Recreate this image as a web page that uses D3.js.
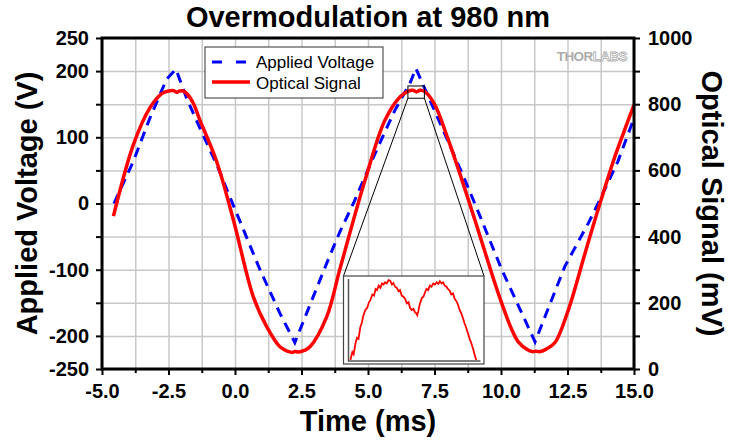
<!DOCTYPE html>
<meta charset="utf-8">
<script src="https://d3js.org/d3.v7.min.js"></script>
<style>
body { margin: 0; background: #fff; }
text { font-family: Arial, "Liberation Sans", sans-serif; }
.axis path { display: none; }
.axis line { stroke: #000; stroke-width: 2px; }
.axis text { font-size: 20px; font-weight: bold; fill: #000; }
.grid path { display: none; }
.grid line { stroke: #c8c8c8; stroke-width: 1.5px; }
.grid text { display: none; }
</style>
<body></body>
<script>

// applied voltage (V) vs time (ms)
var voltT = [-4.55, -3.82, -3.2, -2.57, -2.22, -1.82, -1.32, -0.69, -0.07, 0.94, 1.69, 2.25, 2.69, 3.45, 3.95,
             4.45, 5.26, 6.0, 6.58, 6.8, 7.77, 8.65, 9.2, 10.03, 11.28, 12.4, 13.28, 13.65, 14.4, 15.0];
var voltV = [0, 64, 129, 188, 203, 159, 114, 59, -2, -100, -166, -210, -166, -90, -42,
             0, 75, 140, 182, 204, 116, 35, -18, -100, -209, -95, -30, 0, 64, 129];

// optical signal (mV) vs time (ms)
var sigT = [-4.57, -3.82, -3.2, -2.75, -2.5, -2.3, -2.2, -2.08, -1.9, -1.6, -1.32, -0.69, -0.06, 0.69, 1.19, 1.69,
            2.0, 2.15, 2.25, 2.4, 2.6, 2.82, 3.45, 3.95, 4.89, 5.64, 6.2, 6.5, 6.7, 6.82, 6.95, 7.14, 7.5, 8.02,
            9.02, 9.65, 10.03, 10.4, 10.65, 11.0, 11.2, 11.3, 11.45, 11.7, 12.03, 12.53, 13.16, 13.53, 14.22, 14.6, 15.0];
var sigMV = [462, 678, 789, 832, 840, 841, 836, 840, 838, 808, 752, 627, 450, 218, 128, 67,
             53, 50, 53, 51, 56, 67, 158, 304, 571, 752, 822, 839, 842, 837, 842, 838, 800, 692,
             450, 289, 198, 120, 82, 58, 52, 54, 52, 60, 80, 178, 350, 450, 627, 712, 798];

// zoomed peak shown in the inset
var insetT = [6.509, 6.518, 6.524, 6.533, 6.540, 6.547, 6.556, 6.562, 6.570, 6.579, 6.588, 6.596, 6.603, 6.612,
              6.620, 6.627, 6.634, 6.642, 6.650, 6.657, 6.665, 6.672, 6.680, 6.688, 6.696, 6.704, 6.711, 6.719,
              6.727, 6.735, 6.742, 6.750, 6.758, 6.766, 6.774, 6.782, 6.789, 6.797, 6.805, 6.812, 6.818, 6.823,
              6.828, 6.832, 6.836, 6.845, 6.852, 6.859, 6.866, 6.874, 6.882, 6.890, 6.898, 6.906, 6.914, 6.922,
              6.929, 6.937, 6.944, 6.952, 6.960, 6.967, 6.975, 6.983, 6.991, 6.999, 7.007, 7.014, 7.022, 7.030,
              7.037, 7.045, 7.053, 7.061, 7.069, 7.077, 7.085, 7.092, 7.100];
var insetMV = [818.5, 822, 821, 826, 828.5, 828, 833.5, 835, 838.5, 841, 842, 844.5, 845.5, 848,
               847.5, 850.5, 850, 852, 851, 853, 852.5, 853.5, 853, 854.5, 854.2, 852.5, 853.2, 851.5,
               851, 849.5, 850, 847.5, 847, 846, 844, 844.5, 842, 841, 841.5, 840, 839.5, 838.6,
               840.5, 842.5, 844, 846.5, 847, 848.8, 850.5, 850, 852, 851.5, 853, 852.5, 853.5, 852.8,
               854, 853, 853.5, 852, 851.5, 850.5, 849.8, 848, 848.5, 846, 845, 843.5, 841, 839.5,
               837.5, 835, 833, 830.5, 828, 826, 823.5, 821, 818.5];
var zoomT = [6.5, 7.12];
var zoomMV = [818, 855];

var xTicks = [-5, -2.5, 0, 2.5, 5, 7.5, 10, 12.5, 15];
var yLeftLabels = [-250, -200, -100, 0, 100, 200, 250];
var yRightLabels = [0, 200, 400, 600, 800, 1000];
var seriesNames = ["Applied Voltage", "Optical Signal"];

var volt = voltT.map(function(t, i) { return {t: t, v: voltV[i]}; });
var sig = sigT.map(function(t, i) { return {t: t, v: sigMV[i]}; });
var ins = insetT.map(function(t, i) { return {t: t, v: insetMV[i]}; });

var margin = {top: 38, right: 96, bottom: 71, left: 102};
var width = 730 - margin.left - margin.right,
    height = 440 - margin.top - margin.bottom;

var root = d3.select("body").append("svg")
    .attr("width", 730)
    .attr("height", 440);
root.append("rect").attr("width", 730).attr("height", 440).attr("fill", "#fff");

var svg = root.append("g")
    .attr("transform", "translate(" + margin.left + "," + margin.top + ")");

var x = d3.scaleLinear().domain([-5, 15]).range([0, width]);
var yL = d3.scaleLinear().domain([-250, 250]).range([height, 0]);
var yR = d3.scaleLinear().domain([0, 1000]).range([height, 0]);

// gridlines
svg.append("g").attr("class", "grid")
    .attr("transform", "translate(0," + height + ")")
    .call(d3.axisBottom(x).tickValues(d3.range(-5, 15.01, 1.25)).tickSize(-height).tickFormat(""));
svg.append("g").attr("class", "grid")
    .call(d3.axisLeft(yL).tickValues(d3.range(-250, 251, 50)).tickSize(-width).tickFormat(""));

// axes
var minorX = d3.range(-3.75, 15, 2.5);
svg.append("g").attr("class", "x axis")
    .attr("transform", "translate(0," + height + ")")
    .call(d3.axisBottom(x).tickValues(xTicks).tickSize(6).tickPadding(9)
      .tickFormat(function(d) { return d.toFixed(1); }));
svg.append("g").attr("class", "x axis")
    .attr("transform", "translate(0," + height + ")")
    .call(d3.axisBottom(x).tickValues(minorX).tickSize(4).tickFormat(""));

svg.append("g").attr("class", "y axis")
    .call(d3.axisLeft(yL).tickValues(d3.range(-250, 251, 50)).tickSize(6).tickPadding(7)
      .tickFormat(function(d) { return yLeftLabels.indexOf(d) >= 0 ? String(d) : ""; }));

svg.append("g").attr("class", "y axis")
    .attr("transform", "translate(" + width + ",0)")
    .call(d3.axisRight(yR).tickValues(d3.range(0, 1001, 100)).tickSize(6).tickPadding(8)
      .tickFormat(function(d) { return yRightLabels.indexOf(d) >= 0 ? String(d) : ""; }));

// watermark
var logo = svg.append("text")
    .attr("x", width - 7).attr("y", 23)
    .attr("text-anchor", "end")
    .style("font-size", "13.5px").style("font-weight", "bold")
    .style("letter-spacing", "-0.6px");
logo.append("tspan").attr("fill", "#adadad").text("THOR");
logo.append("tspan").attr("fill", "#fff").attr("stroke", "#adadad").attr("stroke-width", 0.8).text("LABS");

// curves
var lineV = d3.line().x(function(d) { return x(d.t); }).y(function(d) { return yL(d.v); });
var lineS = d3.line().curve(d3.curveCatmullRom.alpha(0.5))
    .x(function(d) { return x(d.t); }).y(function(d) { return yR(d.v); });

svg.append("path").datum(volt)
    .attr("d", lineV)
    .attr("fill", "none").attr("stroke", "#0000ff").attr("stroke-width", 3)
    .attr("stroke-dasharray", "10,7");

svg.append("path").datum(sig)
    .attr("d", lineS)
    .attr("fill", "none").attr("stroke", "#ff0000").attr("stroke-width", 3.5);

// zoom rectangle and connectors
var zx0 = x(zoomT[0]), zx1 = x(zoomT[1]), zy0 = yR(zoomMV[1]), zy1 = yR(zoomMV[0]);
svg.append("rect")
    .attr("x", zx0).attr("y", zy0).attr("width", zx1 - zx0).attr("height", zy1 - zy0)
    .attr("fill", "none").attr("stroke", "#000").attr("stroke-width", 1);

var inset = {x: 343.5 - margin.left, y: 276 - margin.top, w: 140.5, h: 88};
svg.append("line")
    .attr("x1", zx0).attr("y1", zy1).attr("x2", inset.x).attr("y2", inset.y)
    .attr("stroke", "#000").attr("stroke-width", 1);
svg.append("line")
    .attr("x1", zx1).attr("y1", zy1).attr("x2", inset.x + inset.w).attr("y2", inset.y)
    .attr("stroke", "#000").attr("stroke-width", 1);

// inset
var ig = svg.append("g").attr("transform", "translate(" + inset.x + "," + inset.y + ")");
ig.append("rect").attr("width", inset.w).attr("height", inset.h)
    .attr("fill", "#fff").attr("stroke", "#444").attr("stroke-width", 1.2);
var ix = d3.scaleLinear().domain(zoomT).range([5, 137]);
var iy = d3.scaleLinear().domain(zoomMV).range([85, 3]);
ig.append("path")
    .attr("d", "M5,3V85H137")
    .attr("fill", "none").attr("stroke", "#555").attr("stroke-width", 1.5);
ig.append("path").datum(ins)
    .attr("d", d3.line().x(function(d) { return ix(d.t); }).y(function(d) { return iy(d.v); }))
    .attr("fill", "none").attr("stroke", "#ff0000").attr("stroke-width", 1.8);

// frame
svg.append("rect")
    .attr("width", width).attr("height", height)
    .attr("fill", "none").attr("stroke", "#000").attr("stroke-width", 3);

// legend
var lg = root.append("g").attr("transform", "translate(205,47)");
lg.append("rect").attr("width", 178).attr("height", 51)
    .attr("fill", "#fff").attr("stroke", "#333").attr("stroke-width", 1);
lg.append("line").attr("x1", 7).attr("x2", 43).attr("y1", 15).attr("y2", 15)
    .attr("stroke", "#0000ff").attr("stroke-width", 3).attr("stroke-dasharray", "10,14");
lg.append("line").attr("x1", 7).attr("x2", 45).attr("y1", 35).attr("y2", 35)
    .attr("stroke", "#ff0000").attr("stroke-width", 3.5);
lg.selectAll(".lgText").data(seriesNames).enter().append("text")
    .attr("class", "lgText")
    .attr("x", 51).attr("y", function(d, i) { return 21 + i * 20.7; })
    .style("font-size", "17px")
    .text(function(d) { return d; });

// titles
root.append("text")
    .attr("x", margin.left + width / 2).attr("y", 27)
    .attr("text-anchor", "middle")
    .style("font-size", "29px").style("font-weight", "bold")
    .text("Overmodulation at 980 nm");

root.append("text")
    .attr("x", margin.left + width / 2).attr("y", 431)
    .attr("text-anchor", "middle")
    .style("font-size", "29px").style("font-weight", "bold")
    .text("Time (ms)");

root.append("text")
    .attr("transform", "translate(37," + (margin.top + height / 2) + ") rotate(-90)")
    .attr("text-anchor", "middle")
    .style("font-size", "29px").style("font-weight", "bold")
    .text("Applied Voltage (V)");

root.append("text")
    .attr("transform", "translate(702," + (margin.top + height / 2) + ") rotate(90)")
    .attr("text-anchor", "middle")
    .style("font-size", "29px").style("font-weight", "bold")
    .text("Optical Signal (mV)");

</script>
